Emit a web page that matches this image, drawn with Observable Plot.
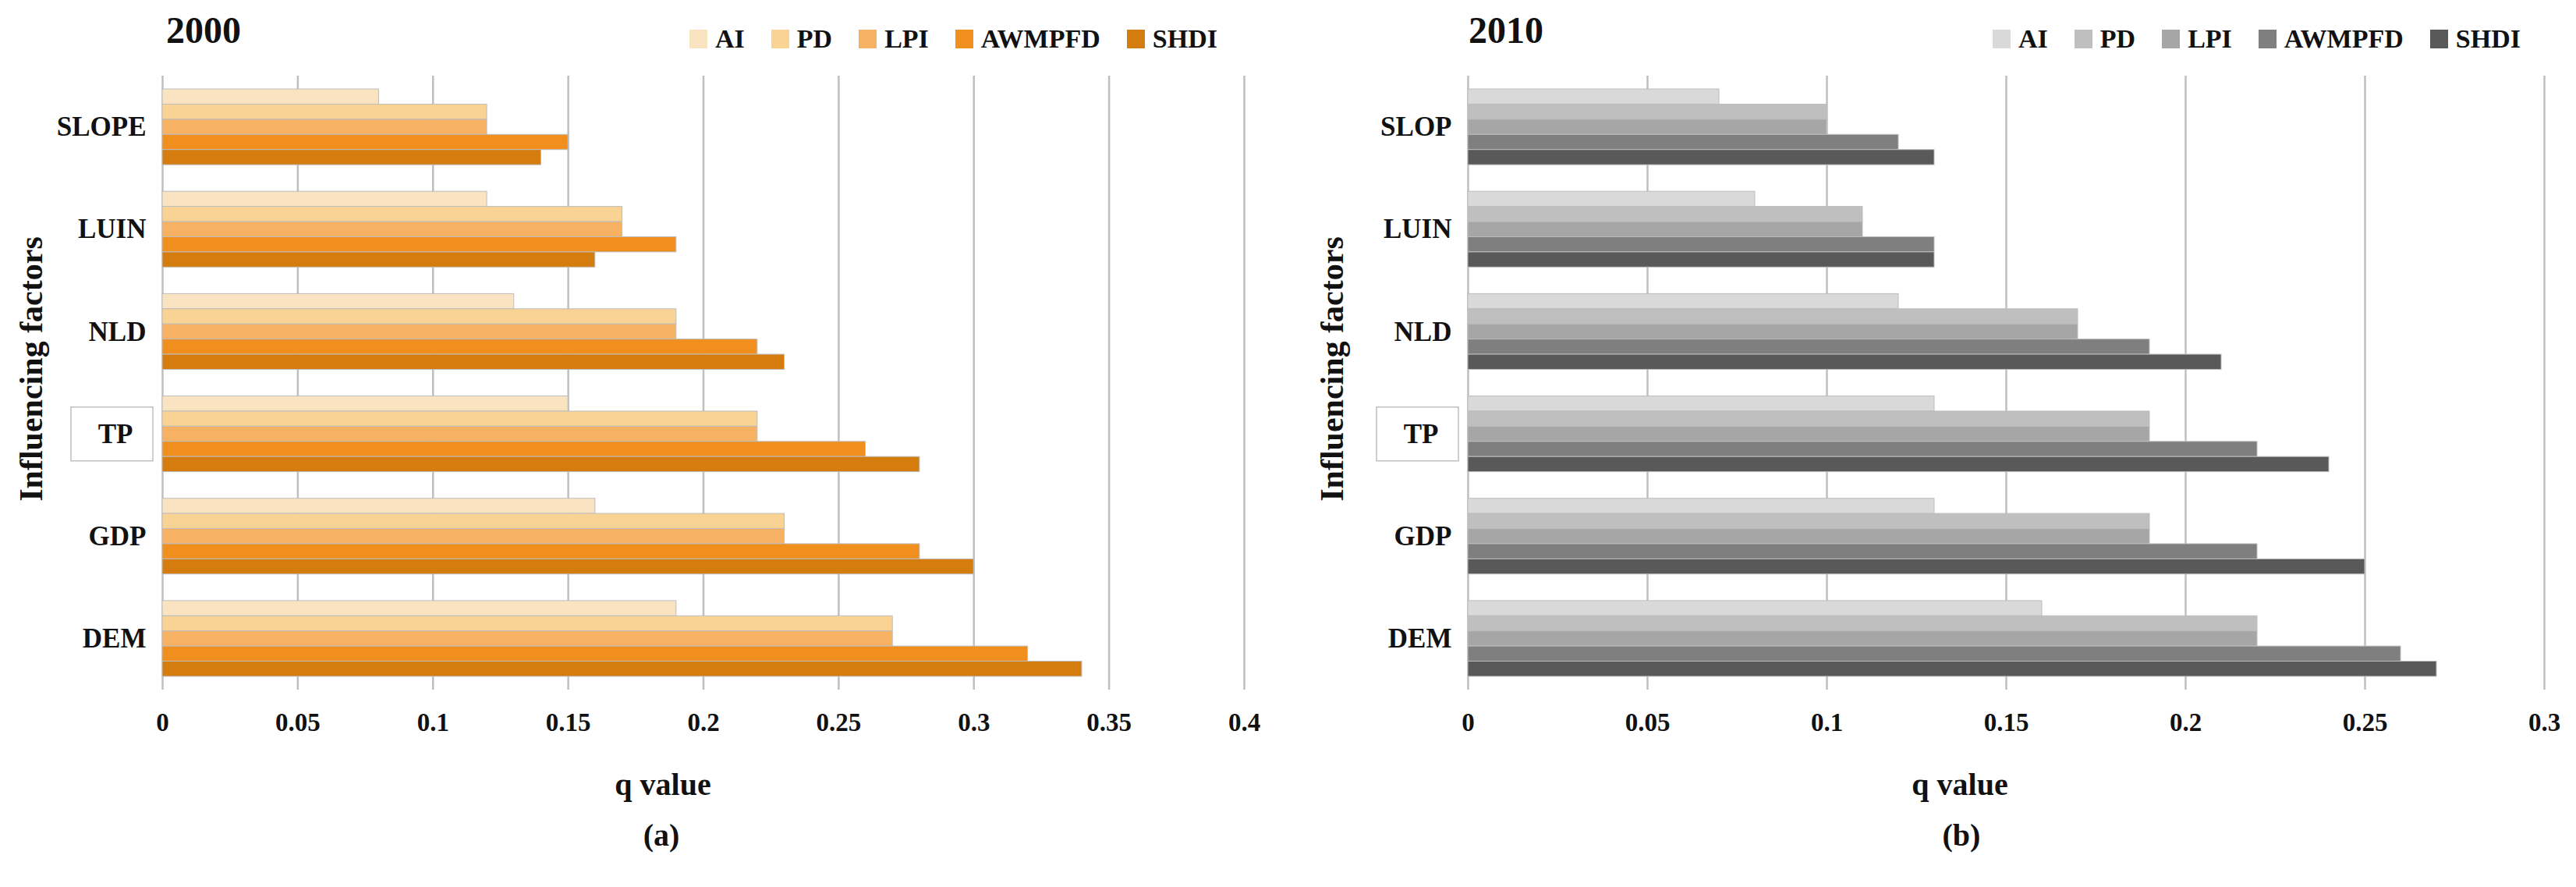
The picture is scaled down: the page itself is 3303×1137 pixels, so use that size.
<!DOCTYPE html>
<html><head><meta charset="utf-8">
<script src="https://cdn.jsdelivr.net/npm/d3@7"></script>
<script src="https://cdn.jsdelivr.net/npm/@observablehq/plot@0.6"></script>
<style>
html,body{margin:0;padding:0;background:#fff;}
#root{position:relative;width:3303px;height:1137px;overflow:hidden;font-family:'Liberation Serif','Times New Roman',serif;color:#111;}
.panel{position:absolute;top:0;}
.legend{position:absolute;top:32.5px;display:flex;align-items:center;gap:34px;font-weight:bold;font-size:34px;line-height:1;}
.legend .item{display:flex;align-items:center;}
.legend .sw{width:23px;height:24px;margin-right:10px;}
#overlay{position:absolute;left:0;top:0;pointer-events:none;}
</style></head><body><div id="root"></div>
<script>
// ---------- data ----------
const series = ["AI", "PD", "LPI", "AWMPFD", "SHDI"];

const categories2000 = ["SLOPE", "LUIN", "NLD", "TP", "GDP", "DEM"];
const ai2000     = [0.08, 0.12, 0.13, 0.15, 0.16, 0.19];
const pd2000     = [0.12, 0.17, 0.19, 0.22, 0.23, 0.27];
const lpi2000    = [0.12, 0.17, 0.19, 0.22, 0.23, 0.27];
const awmpfd2000 = [0.15, 0.19, 0.22, 0.26, 0.28, 0.32];
const shdi2000   = [0.14, 0.16, 0.23, 0.28, 0.30, 0.34];

const categories2010 = ["SLOP", "LUIN", "NLD", "TP", "GDP", "DEM"];
const ai2010     = [0.07, 0.08, 0.12, 0.13, 0.13, 0.16];
const pd2010     = [0.10, 0.11, 0.17, 0.19, 0.19, 0.22];
const lpi2010    = [0.10, 0.11, 0.17, 0.19, 0.19, 0.22];
const awmpfd2010 = [0.12, 0.13, 0.19, 0.22, 0.22, 0.26];
const shdi2010   = [0.13, 0.13, 0.21, 0.24, 0.25, 0.27];

const xTicks2000 = [0, 0.05, 0.1, 0.15, 0.2, 0.25, 0.3, 0.35, 0.4];
const xTicks2010 = [0, 0.05, 0.1, 0.15, 0.2, 0.25, 0.3];

const orangeColors = ["#FAE3C0", "#F8D393", "#F6B162", "#F08E1E", "#D47C0D"];
const grayColors   = ["#D9D9D9", "#BFBFBF", "#A6A6A6", "#7F7F7F", "#595959"];

// ---------- layout ----------
const root = document.getElementById("root");
const PLOT_TOP = 97, PLOT_BOTTOM = 884, SVG_H = 960;
const PAD_IN = 0.26, PAD_OUT = 0.13;

function panel({cats, values, colors, ticks, left, width, marginLeft, marginRight}) {
  const rows = [];
  series.forEach((s, i) => cats.forEach((c, j) => rows.push({cat: c, series: s, value: values[i][j]})));
  const H = PLOT_BOTTOM - PLOT_TOP;
  const step = H / (cats.length - PAD_IN + 2 * PAD_OUT);
  const bw = step * (1 - PAD_IN);
  const h = bw / series.length;
  const xMax = ticks[ticks.length - 1];
  const chart = Plot.plot({
    width, height: SVG_H,
    marginLeft, marginRight, marginTop: PLOT_TOP, marginBottom: SVG_H - PLOT_BOTTOM,
    x: {domain: [0, xMax]},
    y: {domain: cats, paddingInner: PAD_IN, paddingOuter: PAD_OUT, round: false},
    style: {background: "transparent", fontFamily: "'Liberation Serif','Times New Roman',serif", fontWeight: "bold", fontSize: "33px", color: "#111", overflow: "visible"},
    marks: [
      Plot.gridX(ticks, {stroke: "#bfbfbf", strokeOpacity: 1, strokeWidth: 2.5}),
      ...series.map((s, i) => Plot.barX(rows.filter(r => r.series === s), {
        x: "value", y: "cat", fill: colors[i], stroke: "#bdbdbd", strokeWidth: 1,
        insetTop: i * h, insetBottom: (series.length - 1 - i) * h
      })),
      Plot.axisX({ticks, tickSize: 0, tickPadding: 29, tickFormat: d => String(+d.toFixed(2)), fontSize: 33, label: null}),
      Plot.axisY({tickSize: 0, tickPadding: 21, fontSize: 35, label: null})
    ]
  });
  chart.classList.add("panel");
  chart.style.left = left + "px";
  root.appendChild(chart);
  // boxed "TP" label
  const texts = Array.from(chart.querySelectorAll("text")).filter(t => t.textContent === "TP");
  if (texts.length) {
    const t = texts[0];
    const tr = t.getAttribute("transform") || "";
    t.setAttribute("transform", tr + " translate(-17,0)");
    const sr = chart.getBoundingClientRect();
    const br = t.getBoundingClientRect();
    const cy = (br.top + br.bottom) / 2 - sr.top;
    const rect = document.createElementNS("http://www.w3.org/2000/svg", "rect");
    rect.setAttribute("x", marginLeft - 117);
    rect.setAttribute("y", cy - 34.5);
    rect.setAttribute("width", 105);
    rect.setAttribute("height", 69);
    rect.setAttribute("fill", "none");
    rect.setAttribute("stroke", "#bfbfbf");
    rect.setAttribute("stroke-width", 1.5);
    chart.appendChild(rect);
  }
}

panel({cats: categories2000, values: [ai2000, pd2000, lpi2000, awmpfd2000, shdi2000], colors: orangeColors,
       ticks: xTicks2000, left: 0, width: 1650, marginLeft: 208, marginRight: 55});
panel({cats: categories2010, values: [ai2010, pd2010, lpi2010, awmpfd2010, shdi2010], colors: grayColors,
       ticks: xTicks2010, left: 1674, width: 1629, marginLeft: 208, marginRight: 41});

// legends
function legend(colors, left) {
  const div = document.createElement("div");
  div.className = "legend";
  div.style.left = left + "px";
  series.forEach((s, i) => {
    const item = document.createElement("div");
    item.className = "item";
    const sw = document.createElement("div");
    sw.className = "sw";
    sw.style.background = colors[i];
    const tx = document.createElement("span");
    tx.textContent = s;
    item.appendChild(sw); item.appendChild(tx);
    div.appendChild(item);
  });
  root.appendChild(div);
}
legend(orangeColors, 884);
legend(grayColors, 2555);

// overlay texts
const NS = "http://www.w3.org/2000/svg";
const ov = document.createElementNS(NS, "svg");
ov.setAttribute("id", "overlay");
ov.setAttribute("width", 3303);
ov.setAttribute("height", 1137);
ov.style.fontFamily = "'Liberation Serif','Times New Roman',serif";
ov.style.fontWeight = "bold";
root.appendChild(ov);
function txt(s, x, y, size, anchor, rotate) {
  const t = document.createElementNS(NS, "text");
  t.textContent = s;
  t.setAttribute("font-size", size);
  t.setAttribute("fill", "#111");
  t.setAttribute("text-anchor", anchor);
  if (rotate) t.setAttribute("transform", `translate(${x},${y}) rotate(${rotate})`);
  else { t.setAttribute("x", x); t.setAttribute("y", y); }
  ov.appendChild(t);
}
txt("2000", 213, 55, 48, "start");
txt("2010", 1883, 55, 48, "start");
txt("Influencing factors", 54, 473, 42, "middle", -90);
txt("Influencing factors", 1722, 473, 42, "middle", -90);
txt("q value", 850, 1019, 40, "middle");
txt("q value", 2513, 1019, 40, "middle");
txt("(a)", 848, 1084, 40, "middle");
txt("(b)", 2515, 1084, 40, "middle");
</script>
</body></html>
